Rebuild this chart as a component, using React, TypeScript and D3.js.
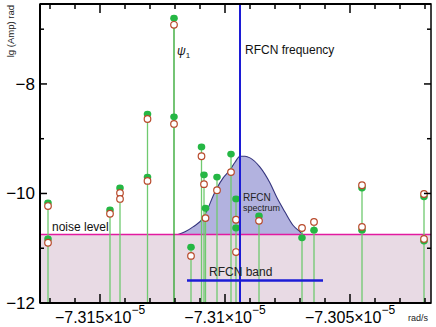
import React from "react";
import * as d3 from "d3";

// frequencies in units of 1e-5 rad/s, amplitudes as lg(Amp)
const xMajorTicks = [-7.315, -7.31, -7.305];
const xTickLabels = ["\u22127.315\u00d710", "\u22127.31\u00d710", "\u22127.305\u00d710"];
const xMinorTicks = [-7.317, -7.316, -7.314, -7.313, -7.312, -7.311, -7.309, -7.308, -7.307, -7.306, -7.304, -7.303, -7.302];
const yMajorTicks = [-12, -10, -8];
const yTickLabels = ["\u221212", "\u221210", "\u22128"];
const yMinorTicks = [-11, -9, -7];

const stemFreqs = [
  -7.31708, -7.3146, -7.3142, -7.3131, -7.31204, -7.31136, -7.31094, -7.31084, -7.31078,
  -7.31032, -7.30976, -7.30956, -7.30864, -7.30692, -7.30644, -7.30452, -7.30204,
];
const psiIndex = 4;

const greenDots: [number, number][] = [
  [-7.31708, -10.17], [-7.31708, -10.83],
  [-7.3146, -10.3],
  [-7.3142, -9.9],
  [-7.3131, -8.55], [-7.3131, -9.7],
  [-7.31204, -6.8], [-7.31204, -8.6],
  [-7.31136, -10.98],
  [-7.31094, -9.15],
  [-7.31084, -9.66],
  [-7.31078, -10.27],
  [-7.31032, -9.7],
  [-7.30976, -9.28],
  [-7.30956, -10.1], [-7.30956, -10.63],
  [-7.30864, -10.41],
  [-7.30692, -10.81],
  [-7.30644, -10.67],
  [-7.30452, -9.9], [-7.30452, -10.67],
  [-7.30204, -10.06], [-7.30204, -10.87],
];

const openCircles: [number, number][] = [
  [-7.31708, -10.23], [-7.31708, -10.9],
  [-7.3146, -10.37],
  [-7.3142, -9.99], [-7.3142, -10.1],
  [-7.3131, -8.64], [-7.3131, -9.77],
  [-7.31204, -6.92], [-7.31204, -8.73],
  [-7.31136, -11.14],
  [-7.31094, -9.32],
  [-7.31084, -9.83],
  [-7.31078, -10.45],
  [-7.31032, -9.94],
  [-7.30976, -9.61],
  [-7.30956, -10.48], [-7.30956, -11.07],
  [-7.30864, -10.5],
  [-7.30692, -10.63],
  [-7.30644, -10.52],
  [-7.30452, -9.85], [-7.30452, -10.61],
  [-7.30204, -10.01], [-7.30204, -10.83],
];

const spectrumFreq = [
  -7.31188, -7.3116, -7.31128, -7.31088, -7.31068, -7.31048, -7.31032, -7.31008, -7.3098, -7.3096,
  -7.3094, -7.3092, -7.309, -7.3086, -7.3082, -7.30792, -7.3076, -7.30728, -7.307, -7.30688,
];
const spectrumAmp = [
  -10.75, -10.7, -10.61, -10.45, -10.27, -10.05, -9.9, -9.72, -9.57, -9.43,
  -9.32, -9.32, -9.35, -9.52, -9.81, -10.08, -10.34, -10.58, -10.7, -10.75,
];

const noiseLevel = -10.75;
const rfcnFreq = -7.3094;
const rfcnBand = [-7.31152, -7.30608];
const rfcnBandLevel = -11.59;

const font = "'Liberation Sans', Arial, Helvetica, sans-serif";

export default function App() {
  const width = 436;
  const height = 327;
  const m = { top: 4, right: 5, bottom: 24, left: 40 };

  const x = d3.scaleLinear().domain([-7.3174, -7.30176]).range([m.left, width - m.right]);
  const y = d3.scaleLinear().domain([-12, -6.54]).range([height - m.bottom, m.top]);

  const x0 = x.range()[0], x1 = x.range()[1];
  const y0 = y.range()[0], y1 = y.range()[1];

  const area = d3.area<number>()
    .x((_, i) => x(spectrumFreq[i]))
    .y0(y(noiseLevel))
    .y1((d) => y(d))
    .curve(d3.curveMonotoneX);
  const line = d3.line<number>()
    .x((_, i) => x(spectrumFreq[i]))
    .y((d) => y(d))
    .curve(d3.curveMonotoneX);

  const stemTop = (f: number) =>
    d3.max([...greenDots, ...openCircles].filter((p) => p[0] === f), (p) => p[1]) as number;

  return (
    <svg width={width} height={height} style={{ position: "absolute", left: 0, top: 0 }} fontFamily={font}>
      <rect width={width} height={height} fill="#fff" />
      {/* noise band */}
      <rect x={x0} y={y(noiseLevel)} width={x1 - x0} height={y0 - y(noiseLevel)} fill="#e8dae4" />
      {/* spectrum */}
      <path d={area(spectrumAmp) || ""} fill="#b2b2df" />
      <path d={line(spectrumAmp) || ""} fill="none" stroke="#35357e" strokeWidth={1.1} />
      <line x1={x0} x2={x1} y1={y(noiseLevel)} y2={y(noiseLevel)} stroke="#e21aa0" strokeWidth={1.5} />

      {/* stems */}
      {stemFreqs.map((f, i) => (
        <line key={i} x1={x(f)} x2={x(f)} y1={y0} y2={y(stemTop(f))}
          stroke={i === psiIndex ? "#2aa52a" : "#6fca6f"} strokeWidth={1.3} />
      ))}
      {greenDots.map((p, i) => (
        <ellipse key={i} cx={x(p[0])} cy={y(p[1])} rx={3.8} ry={3.4} fill="#25b744" />
      ))}
      {openCircles.map((p, i) => (
        <circle key={i} cx={x(p[0])} cy={y(p[1])} r={3.3} fill="#fff" stroke="#b84a2c" strokeWidth={1.2} />
      ))}

      {/* RFCN frequency and band */}
      <line x1={x(rfcnFreq)} x2={x(rfcnFreq)} y1={y1} y2={y0} stroke="#1c1cd6" strokeWidth={2} />
      <line x1={x(rfcnBand[0])} x2={x(rfcnBand[1])} y1={y(rfcnBandLevel)} y2={y(rfcnBandLevel)} stroke="#1c1cd6" strokeWidth={2.5} />

      {/* labels */}
      <text x={52} y={231} fontSize={12} fill="#111">noise level</text>
      <text x={245} y={54} fontSize={12} fill="#111">RFCN frequency</text>
      <text x={243} y={201} fontSize={10} fill="#222">RFCN</text>
      <text x={243} y={211} fontSize={9} fill="#222">spectrum</text>
      <text x={209} y={276} fontSize={12} fill="#222">RFCN  band</text>
      <text x={177} y={55} fontSize={12} fontStyle="italic" fill="#111">
        ψ<tspan fontSize={8} dy={3} fontStyle="normal">1</tspan>
      </text>

      {/* frame */}
      <rect x={x0} y={y1} width={x1 - x0} height={y0 - y1} fill="none" stroke="#000" strokeWidth={1.5} />
      <line x1={x0} x2={x0} y1={y1} y2={y0} stroke="#000" strokeWidth={2} />
      <line x1={x0} x2={x1} y1={y0} y2={y0} stroke="#000" strokeWidth={2} />
      <line x1={x0} x2={x1} y1={y1} y2={y1} stroke="#000" strokeWidth={2} />

      {/* x ticks */}
      {xMajorTicks.map((t, i) => (
        <g key={"xM" + i}>
          <line x1={x(t)} x2={x(t)} y1={y0} y2={y0 - 9} stroke="#000" strokeWidth={1.5} />
          <line x1={x(t)} x2={x(t)} y1={y1} y2={y1 + 9} stroke="#000" strokeWidth={1.5} />
          <text x={x(t)} y={323} fontSize={16} textAnchor="middle" fill="#000">
            {xTickLabels[i]}
            <tspan fontSize={12} dy={-9}>{"\u22125"}</tspan>
          </text>
        </g>
      ))}
      {xMinorTicks.map((t, i) => (
        <g key={"xm" + i}>
          <line x1={x(t)} x2={x(t)} y1={y0} y2={y0 - 5} stroke="#000" strokeWidth={1.5} />
          <line x1={x(t)} x2={x(t)} y1={y1} y2={y1 + 5} stroke="#000" strokeWidth={1.5} />
        </g>
      ))}
      <text x={408} y={321} fontSize={9} fill="#222">rad/s</text>

      {/* y ticks */}
      {yMajorTicks.map((t, i) => (
        <g key={"yM" + i}>
          <line x1={x0} x2={x0 + 7} y1={y(t)} y2={y(t)} stroke="#000" strokeWidth={1.5} />
          <line x1={x1} x2={x1 - 7} y1={y(t)} y2={y(t)} stroke="#000" strokeWidth={1.5} />
          <text x={35} y={y(t) + 6} fontSize={17} textAnchor="end" fill="#000">{yTickLabels[i]}</text>
        </g>
      ))}
      {yMinorTicks.map((t, i) => (
        <g key={"ym" + i}>
          <line x1={x0} x2={x0 + 4} y1={y(t)} y2={y(t)} stroke="#000" strokeWidth={1.5} />
          <line x1={x1} x2={x1 - 4} y1={y(t)} y2={y(t)} stroke="#000" strokeWidth={1.5} />
        </g>
      ))}
      <text transform="rotate(-90)" x={-5} y={14} fontSize={9.5} textAnchor="end" fill="#222">lg (Amp) rad</text>
    </svg>
  );
}
